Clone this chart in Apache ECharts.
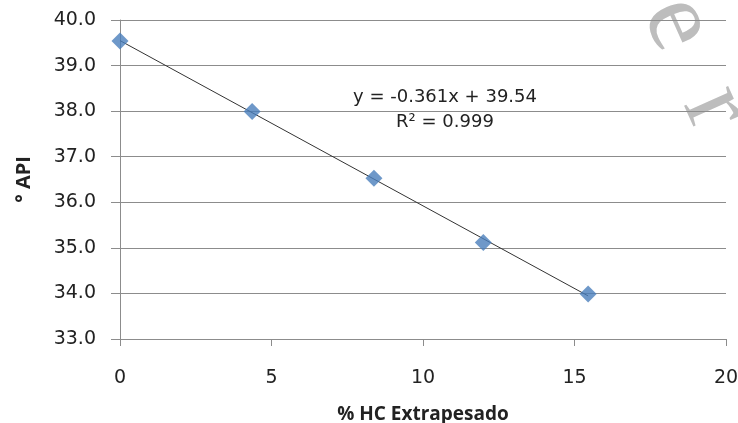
<!DOCTYPE html>
<html>
<head>
<meta charset="utf-8">
<script src="https://cdn.jsdelivr.net/npm/echarts@6/dist/echarts.min.js"></script>
<style>
  html, body { margin: 0; padding: 0; background: #fff; }
  #main { width: 738px; height: 423px; }
</style>
</head>
<body>
<div id="main"></div>
<script>
// datos
var hcExtrapesado = [0, 4.36, 8.38, 11.99, 15.45];
var gradosApi = [39.54, 37.99, 36.53, 35.12, 33.99];
var xTicks = [0, 5, 10, 15, 20];
var yTicks = [33, 34, 35, 36, 37, 38, 39, 40];
var ecuacion = 'y = -0.361x + 39.54';
var r2Texto = 'R² = 0.999';

// recta de minimos cuadrados a partir de los puntos
function ajusteLineal(xs, ys) {
  var n = xs.length, sx = 0, sy = 0, sxx = 0, sxy = 0;
  for (var i = 0; i < n; i++) {
    sx += xs[i]; sy += ys[i];
    sxx += xs[i] * xs[i]; sxy += xs[i] * ys[i];
  }
  var m = (n * sxy - sx * sy) / (n * sxx - sx * sx);
  var b = (sy - m * sx) / n;
  return { m: m, b: b };
}

var fit = ajusteLineal(hcExtrapesado, gradosApi);
var xMin = Math.min.apply(null, hcExtrapesado);
var xMax = Math.max.apply(null, hcExtrapesado);
var lineaTendencia = [
  [xMin, fit.m * xMin + fit.b],
  [xMax, fit.m * xMax + fit.b]
];

var puntos = hcExtrapesado.map(function (x, i) { return [x, gradosApi[i]]; });

var chart = echarts.init(document.getElementById('main'));
var option = {
  animation: false,
  grid: { left: 120, right: 12, top: 20, bottom: 84, outerBoundsMode: 'none', containLabel: false },
  xAxis: {
    type: 'value',
    min: xTicks[0],
    max: xTicks[xTicks.length - 1],
    interval: 5,
    name: '% HC Extrapesado',
    nameLocation: 'middle',
    nameGap: 66,
    nameTextStyle: { fontFamily: 'Open Sans', fontWeight: 'bold', fontSize: 19, color: '#222' },
    axisLine: { show: true, lineStyle: { color: '#8c8c8c', width: 1 } },
    axisTick: { show: true, length: 7, lineStyle: { color: '#8c8c8c' } },
    axisLabel: { margin: 30, fontFamily: 'DejaVu Sans', fontSize: 19, color: '#222' },
    splitLine: { show: false }
  },
  yAxis: {
    type: 'value',
    min: yTicks[0],
    max: yTicks[yTicks.length - 1],
    interval: 1,
    name: '° API',
    nameLocation: 'middle',
    nameGap: 86,
    nameRotate: 90,
    nameTextStyle: { fontFamily: 'Open Sans', fontWeight: 'bold', fontSize: 20, color: '#222' },
    axisLine: { show: true, lineStyle: { color: '#8c8c8c', width: 1 } },
    axisTick: { show: true, length: 9, lineStyle: { color: '#8c8c8c' } },
    axisLabel: {
      margin: 24,
      fontFamily: 'DejaVu Sans',
      fontSize: 19,
      color: '#222',
      formatter: function (v) { return v.toFixed(1); }
    },
    splitLine: { show: true, lineStyle: { color: '#8c8c8c', width: 1 } }
  },
  graphic: [
    {
      type: 'text',
      x: 445,
      y: 97,
      style: { text: ecuacion, fontFamily: 'DejaVu Sans', fontSize: 18, fill: '#222', align: 'center', verticalAlign: 'middle' }
    },
    {
      type: 'text',
      x: 445,
      y: 122,
      style: { text: r2Texto, fontFamily: 'DejaVu Sans', fontSize: 18, fill: '#222', align: 'center', verticalAlign: 'middle' }
    },
    {
      // marca de agua parcial
      type: 'text',
      x: 668,
      y: 2,
      rotation: -1.15,
      style: {
        text: 'e  r',
        fontFamily: 'Liberation Serif',
        fontSize: 105,
        fill: '#bdbdbd',
        align: 'left',
        verticalAlign: 'middle'
      },
      z: 0
    }
  ],
  series: [
    {
      type: 'line',
      data: lineaTendencia,
      showSymbol: false,
      lineStyle: { color: '#333', width: 1 },
      z: 2
    },
    {
      type: 'scatter',
      data: puntos,
      symbol: 'diamond',
      symbolSize: 17,
      itemStyle: { color: '#4a7ebb' },
      z: 3
    }
  ]
};
chart.setOption(option);
</script>
</body>
</html>
